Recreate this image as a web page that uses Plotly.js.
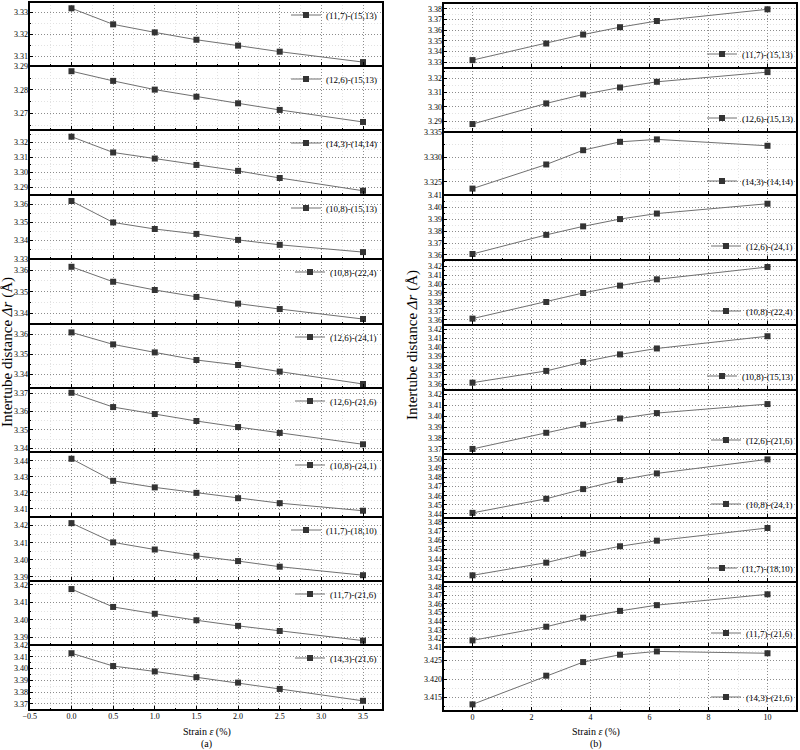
<!DOCTYPE html>
<html>
<head>
<meta charset="utf-8">
<script src="https://cdn.plot.ly/plotly-3.0.1.min.js"></script>
<style>html,body{margin:0;padding:0;background:#fff;}#chart{width:800px;height:750px;}</style>
</head>
<body>
<div id="chart"></div>
<script>
// ---- data ----
const strainA = [0, 0.5, 1, 1.5, 2, 2.5, 3.5];
const strainB = [0, 2.5, 3.75, 5, 6.25, 10];

const pairsA = ["(11,7)-(15,13)", "(12,6)-(15,13)", "(14,3)-(14,14)", "(10,8)-(15,13)", "(10,8)-(22,4)",
  "(12,6)-(24,1)", "(12,6)-(21,6)", "(10,8)-(24,1)", "(11,7)-(18,10)", "(11,7)-(21,6)", "(14,3)-(21,6)"];
const pairsB = ["(11,7)-(15,13)", "(12,6)-(15,13)", "(14,3)-(14,14)", "(12,6)-(24,1)", "(10,8)-(22,4)",
  "(10,8)-(15,13)", "(12,6)-(21,6)", "(10,8)-(24,1)", "(11,7)-(18,10)", "(11,7)-(21,6)", "(14,3)-(21,6)"];

const a1 = [3.3320, 3.3246, 3.3209, 3.3175, 3.3148, 3.3120, 3.3072];
const a2 = [3.2879, 3.2838, 3.2801, 3.2771, 3.2743, 3.2715, 3.2664];
const a3 = [3.3235, 3.3131, 3.3091, 3.3049, 3.3010, 3.2963, 3.2879];
const a4 = [3.3618, 3.3500, 3.3464, 3.3437, 3.3404, 3.3377, 3.3337];
const a5 = [3.3615, 3.3546, 3.3508, 3.3476, 3.3445, 3.3420, 3.3374];
const a6 = [3.3608, 3.3548, 3.3508, 3.3470, 3.3445, 3.3412, 3.3350];
const a7 = [3.3703, 3.3625, 3.3587, 3.3549, 3.3516, 3.3484, 3.3422];
const a8 = [3.4412, 3.4275, 3.4234, 3.4200, 3.4167, 3.4136, 3.4089];
const a9 = [3.4215, 3.4102, 3.4060, 3.4023, 3.3992, 3.3959, 3.3909];
const a10 = [3.4176, 3.4074, 3.4035, 3.3998, 3.3966, 3.3937, 3.3882];
const a11 = [3.4131, 3.4022, 3.3976, 3.3927, 3.3881, 3.3827, 3.3726];

const b1 = [3.3320, 3.3476, 3.3560, 3.3629, 3.3687, 3.3797];
const b2 = [3.2879, 3.3024, 3.3087, 3.3136, 3.3176, 3.3244];
const b3 = [3.3236, 3.3285, 3.3314, 3.3331, 3.3336, 3.3323];
const b4 = [3.3608, 3.3768, 3.3839, 3.3900, 3.3946, 3.4028];
const b5 = [3.3615, 3.3800, 3.3900, 3.3982, 3.4052, 3.4189];
const b6 = [3.3615, 3.3744, 3.3842, 3.3925, 3.3990, 3.4124];
const b7 = [3.3703, 3.3850, 3.3923, 3.3980, 3.4029, 3.4111];
const b8 = [3.4412, 3.4567, 3.4673, 3.4772, 3.4845, 3.4999];
const b9 = [3.4215, 3.4356, 3.4456, 3.4538, 3.4600, 3.4741];
const b10 = [3.4176, 3.4335, 3.4440, 3.4519, 3.4586, 3.4712];
const b11 = [3.4131, 3.4209, 3.4246, 3.4266, 3.4275, 3.4270];

const seriesA = [a1, a2, a3, a4, a5, a6, a7, a8, a9, a10, a11];
const seriesB = [b1, b2, b3, b4, b5, b6, b7, b8, b9, b10, b11];

// ---- layout config ----
const W = 800, H = 750;
const edgesA = [2, 66, 130, 195, 259, 324, 388, 452, 517, 581, 645, 710];
const edgesB = [3, 68, 132, 195, 260, 325, 390, 454, 518, 582, 647, 711];
const yRangeA = [[3.3054, 3.3349], [3.2630, 3.2901], [3.2851, 3.3279], [3.3299, 3.3651], [3.3351, 3.3651],
  [3.3330, 3.3650], [3.3380, 3.3729], [3.4050, 3.4454], [3.3875, 3.4251], [3.3857, 3.4222], [3.3648, 3.4201]];
const yRangeB = [[3.3246, 3.3856], [3.2823, 3.3273], [3.3223, 3.3351], [3.3558, 3.4101], [3.3544, 3.4267],
  [3.3535, 3.4247], [3.3657, 3.4239], [3.4356, 3.5058], [3.4141, 3.4852], [3.4099, 3.4855], [3.4113, 3.4287]];
const yStepB = [0.01, 0.01, 0.005, 0.01, 0.01, 0.01, 0.01, 0.01, 0.01, 0.01, 0.005];

const FONT = "Liberation Serif, Times New Roman, serif";
const data = [];
const layout = {
  width: W, height: H,
  margin: {l: 0, r: 0, t: 0, b: 0},
  paper_bgcolor: "#fff", plot_bgcolor: "#fff",
  font: {family: FONT, size: 8, color: "#000"},
  showlegend: true,
  annotations: [],
  shapes: []
};

function axisBase() {
  return {
    showline: false,
    ticks: "inside", ticklen: 4, tickwidth: 1, tickcolor: "#000",
    showgrid: true, gridcolor: "#8c8c8c", gridwidth: 1, griddash: "1px,2px",
    zeroline: false,
    tickfont: {family: FONT, size: 8, color: "#000"}
  };
}

function addColumn(col, xs, series, pairs, edges, yRanges, ySteps, xDomain, xRange, xDtick, xMinor, xFormat) {
  for (let i = 0; i < 11; i++) {
    const n = col * 11 + i + 1;
    const sfx = n === 1 ? "" : String(n);
    const top = edges[i], bot = edges[i + 1];
    const step = ySteps ? ySteps[i] : 0.01;
    const xa = Object.assign(axisBase(), {
      domain: xDomain, range: xRange, anchor: "y" + sfx,
      dtick: xDtick, tick0: 0, tickformat: xFormat,
      showticklabels: i === 10,
      minor: {dtick: xMinor, ticks: "inside", ticklen: 2, tickcolor: "#000", showgrid: true, gridcolor: "#e2e2e2", gridwidth: 1}
    });
    const ya = Object.assign(axisBase(), {
      domain: [1 - bot / H, 1 - top / H], range: yRanges[i], anchor: "x" + sfx,
      dtick: step, tick0: 0, tickformat: step < 0.01 ? ".3f" : ".2f",
      minor: {dtick: step / 2, ticks: "inside", ticklen: 2, tickcolor: "#000", showgrid: true, gridcolor: "#e2e2e2", gridwidth: 1}
    });
    layout["xaxis" + sfx] = xa;
    layout["yaxis" + sfx] = ya;
    // panel frame
    layout.shapes.push({
      type: "rect", xref: "paper", yref: "paper", layer: "above",
      x0: xDomain[0], x1: xDomain[1], y0: 1 - bot / H, y1: 1 - top / H,
      line: {color: "#000", width: 2}, fillcolor: "rgba(0,0,0,0)"
    });
    const legKey = "legend" + sfx;
    const legY = col === 0 ? 1 - (top + 13) / H : 1 - (bot - 14) / H;
    const legX = col === 0 ? 382 / W : 798 / W;
    layout[legKey] = {
      x: legX, y: legY, xanchor: "right", yanchor: "middle",
      bgcolor: "rgba(0,0,0,0)", borderwidth: 0,
      font: {family: FONT, size: 9, color: "#000"},
      itemwidth: 30, tracegroupgap: 0
    };
    data.push({
      x: xs, y: series[i], name: pairs[i],
      type: "scatter", mode: "lines+markers",
      xaxis: "x" + sfx, yaxis: "y" + sfx, legend: legKey,
      line: {color: "#707070", width: 1},
      marker: {symbol: "square", size: 6, color: "#333333"},
      cliponaxis: false
    });
  }
}

addColumn(0, strainA, seriesA, pairsA, edgesA, yRangeA, null, [29 / W, 383 / W], [-0.51, 3.74], 0.5, 0.25, ".1f");
addColumn(1, strainB, seriesB, pairsB, edgesB, yRangeB, yStepB, [443 / W, 797 / W], [-1, 11], 2, 1, "d");

const titleFont = {family: FONT, size: 10, color: "#000"};
const yTitleFont = {family: FONT, size: 15, color: "#000"};
layout.annotations.push(
  {xref: "paper", yref: "paper", x: 7 / W, y: 1 - 352 / H, text: "Intertube distance <i>Δr</i> (Å)", showarrow: false, textangle: -90, font: yTitleFont, xanchor: "center", yanchor: "middle"},
  {xref: "paper", yref: "paper", x: 412 / W, y: 1 - 345 / H, text: "Intertube distance <i>Δr</i> (Å)", showarrow: false, textangle: -90, font: yTitleFont, xanchor: "center", yanchor: "middle"},
  {xref: "paper", yref: "paper", x: 207 / W, y: 1 - 732 / H, text: "Strain <i>ε</i> (%)", showarrow: false, font: titleFont, xanchor: "center", yanchor: "middle"},
  {xref: "paper", yref: "paper", x: 207 / W, y: 1 - 744 / H, text: "(a)", showarrow: false, font: titleFont, xanchor: "center", yanchor: "middle"},
  {xref: "paper", yref: "paper", x: 596 / W, y: 1 - 732 / H, text: "Strain <i>ε</i> (%)", showarrow: false, font: titleFont, xanchor: "center", yanchor: "middle"},
  {xref: "paper", yref: "paper", x: 596 / W, y: 1 - 744 / H, text: "(b)", showarrow: false, font: titleFont, xanchor: "center", yanchor: "middle"}
);

Plotly.newPlot("chart", data, layout, {staticPlot: true, displayModeBar: false});
</script>
</body>
</html>
